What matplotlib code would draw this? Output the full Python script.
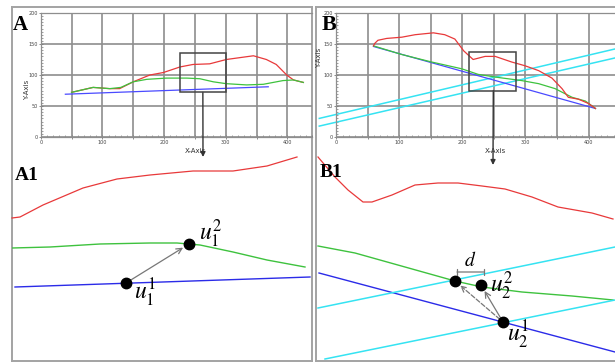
import matplotlib
matplotlib.use("Agg")
import matplotlib.pyplot as plt
from matplotlib.patches import Rectangle
from matplotlib.ticker import MultipleLocator, FuncFormatter

plt.rcParams['mathtext.fontset'] = 'stix'

# ---- panel A (overview) ----
a_red_x = [50, 85, 112, 128, 140, 150, 177, 199, 226, 247, 274, 301, 323, 345, 366, 382, 399, 410, 426]
a_red_y = [72, 80, 78, 78, 84, 89, 100, 104, 113, 117, 118, 125, 128, 131, 125, 117, 100, 92, 88]
a_green_x = [50, 85, 112, 130, 150, 172, 204, 237, 258, 280, 301, 334, 361, 393, 410, 426]
a_green_y = [72, 80, 78, 80, 89, 93, 95, 95, 94, 89, 86, 84, 85, 91, 92, 88]
a_blue_x = [40, 369]
a_blue_y = [69, 81]
a_box_x = [226, 301]
a_box_y = [72, 135]
a_arrow_x = 263

# ---- panel B (overview) ----
b_red_x = [59, 61, 66, 80, 104, 125, 154, 172, 188, 202, 217, 236, 252, 278, 299, 321, 342, 358, 368, 384, 400, 411]
b_red_y = [147, 151, 156, 159, 161, 165, 168, 165, 158, 139, 125, 130, 130, 121, 115, 107, 95, 78, 64, 61, 54, 46]
b_green_x = [59, 104, 151, 199, 225, 257, 294, 321, 347, 374, 395, 411]
b_green_y = [147, 133, 121, 110, 101, 96, 91, 86, 78, 64, 58, 46]
b_blue_x = [59, 411]
b_blue_y = [146, 46]
b_cyan1_x = [-27, 442]
b_cyan1_y = [30, 142]
b_cyan2_x = [-27, 442]
b_cyan2_y = [17.6, 127.5]
b_box_x = [211, 285]
b_box_y = [75, 137]
b_arrow_x = 249

# ---- panel A1 (zoom, schematic units) ----
a1_red_x = [0, 8, 31, 71, 105, 138, 181, 221, 255, 285]
a1_red_y = [143, 144, 156, 173, 182, 186, 190, 190, 195, 204]
a1_green_x = [0, 38, 88, 138, 165, 188, 221, 255, 293]
a1_green_y = [113, 114, 117, 118, 118, 116, 109, 101, 94]
a1_blue_x = [3, 298]
a1_blue_y = [74, 84]
a1_pts_x = [114, 177]          # u1^1, u1^2
a1_pts_y = [78, 117]
a1_tip = (191, 204)

# ---- panel B1 (zoom, schematic units) ----
b1_red_x = [2, 19, 32, 47, 56, 76, 99, 122, 142, 166, 189, 216, 242, 276, 297]
b1_red_y = [204, 184, 171, 159, 159, 166, 176, 178, 178, 175, 172, 164, 154, 148, 142]
b1_green_x = [2, 39, 89, 139, 166, 206, 256, 297]
b1_green_y = [115, 108, 94, 80, 74, 69, 65, 61]
b1_blue_x = [3, 299]
b1_blue_y = [88, 9]
b1_cyan1_x = [2, 299]
b1_cyan1_y = [53, 114]
b1_cyan2_x = [9, 299]
b1_cyan2_y = [2, 61]
b1_pts_x = [139, 165, 187]     # intersection, u2^2, u2^1
b1_pts_y = [80, 76, 39]
b1_d_x = [141, 168]
b1_d_y = 89
b1_tip = (177, 196)

RED, GREEN, BLUE, CYAN = '#e8393a', '#3ec23e', '#2b2be8', '#35e3f2'
GRID = '#8e8e8e'
FRAME = '#a3a3a3'

W, H = 615, 362


def rect(x0, y0, x1, y1):
    return [x0 / W, 1 - y1 / H, (x1 - x0) / W, (y1 - y0) / H]


fig = plt.figure(figsize=(6.15, 3.62), dpi=100)

# outer frames
frames = [fig.add_axes(rect(12, 7, 312, 361)), fig.add_axes(rect(316, 7, 622, 361))]
for fr in frames:
    fr.set_xticks([])
    fr.set_yticks([])
    for s in fr.spines.values():
        s.set_color(FRAME)
        s.set_linewidth(1.4)


def style_top(ax, xmax, lab_x, ylab_y):
    ax.set_xlim(0, xmax)
    ax.set_ylim(0, 200)
    ax.set_facecolor('none')
    ax.set_axisbelow(True)
    ax.xaxis.set_major_locator(MultipleLocator(50))
    ax.yaxis.set_major_locator(MultipleLocator(50))
    ax.xaxis.set_minor_locator(MultipleLocator(10))
    ax.yaxis.set_minor_locator(MultipleLocator(5))
    ax.xaxis.set_major_formatter(FuncFormatter(lambda v, p: f'{int(v)}' if v % 100 == 0 else ''))
    ax.grid(True, which='major', color=GRID, lw=1.2)
    ax.tick_params(which='major', length=2.5, width=0.6, color='#777777',
                   labelsize=3.5, pad=1, direction='inout', labelcolor='#444444')
    ax.tick_params(which='minor', length=1.5, width=0.5, color='#777777', direction='in')
    ax.spines['right'].set_visible(False)
    for s in ['left', 'bottom', 'top']:
        ax.spines[s].set_color(GRID)
        ax.spines[s].set_linewidth(0.9)
    ax.set_xlabel('X-Axis', fontsize=5, color='#333333')
    ax.set_ylabel('Y-Axis', fontsize=5, color='#333333')
    ax.xaxis.set_label_coords(lab_x, -0.085)
    ax.yaxis.set_label_coords(-0.04 if xmax < 441 else -0.05, ylab_y)


axA = fig.add_axes(rect(40.7, 13, 312, 137))
style_top(axA, 440, 0.572, 0.38)
axA.plot(a_blue_x, a_blue_y, color='#4a4aff', lw=0.9)
axA.plot(a_red_x, a_red_y, color=RED, lw=0.9)
axA.plot(a_green_x, a_green_y, color=GREEN, lw=0.9)
axA.add_patch(Rectangle((a_box_x[0], a_box_y[0]), a_box_x[1] - a_box_x[0], a_box_y[1] - a_box_y[0],
                        fill=False, ec='#444444', lw=1.1, zorder=4))

axB = fig.add_axes(rect(336.3, 13, 615, 137))
style_top(axB, 442, 0.57, 0.64)
axB.plot(b_cyan1_x, b_cyan1_y, color=CYAN, lw=1.1, clip_on=False)
axB.plot(b_cyan2_x, b_cyan2_y, color=CYAN, lw=1.1, clip_on=False)
axB.plot(b_blue_x, b_blue_y, color='#4a4aff', lw=0.9)
axB.plot(b_green_x, b_green_y, color=GREEN, lw=0.9)
axB.plot(b_red_x, b_red_y, color=RED, lw=0.9)
axB.add_patch(Rectangle((b_box_x[0], b_box_y[0]), b_box_x[1] - b_box_x[0], b_box_y[1] - b_box_y[0],
                        fill=False, ec='#444444', lw=1.1, zorder=4))

# zoom panels
axA1 = fig.add_axes(rect(12, 155, 312, 361))
axA1.set_xlim(0, 300)
axA1.set_ylim(0, 206)
axA1.axis('off')
axB1 = fig.add_axes(rect(316, 155, 615, 361))
axB1.set_xlim(0, 299)
axB1.set_ylim(0, 206)
axB1.axis('off')

axA1.plot(a1_red_x, a1_red_y, color=RED, lw=0.9, clip_on=False)
axA1.plot(a1_green_x, a1_green_y, color=GREEN, lw=1.0)
axA1.plot(a1_blue_x, a1_blue_y, color=BLUE, lw=1.0)
axA1.annotate('', xy=(a1_pts_x[1], a1_pts_y[1]), xytext=(a1_pts_x[0], a1_pts_y[0]),
              arrowprops=dict(arrowstyle='->', color='#777777', lw=0.9, shrinkA=3, shrinkB=5))
axA1.plot(a1_pts_x, a1_pts_y, 'o', color='black', ms=7.5, zorder=5)
axA1.text(a1_pts_x[1] + 10, a1_pts_y[1] + 10, r'$u_1^2$', fontsize=17, ha='left', va='center')
axA1.text(a1_pts_x[0] + 8, a1_pts_y[0] - 10, r'$u_1^1$', fontsize=17, ha='left', va='center')

axB1.plot(b1_red_x, b1_red_y, color=RED, lw=0.9, clip_on=False)
axB1.plot(b1_green_x, b1_green_y, color=GREEN, lw=1.0)
axB1.plot(b1_blue_x, b1_blue_y, color=BLUE, lw=1.0)
axB1.plot(b1_cyan1_x, b1_cyan1_y, color=CYAN, lw=1.1)
axB1.plot(b1_cyan2_x, b1_cyan2_y, color=CYAN, lw=1.1)
axB1.annotate('', xy=(b1_pts_x[1], b1_pts_y[1]), xytext=(b1_pts_x[2], b1_pts_y[2]),
              arrowprops=dict(arrowstyle='->', color='#777777', lw=0.9, shrinkA=3, shrinkB=5))
axB1.annotate('', xy=(b1_pts_x[0], b1_pts_y[0]), xytext=(b1_pts_x[2], b1_pts_y[2]),
              arrowprops=dict(arrowstyle='->', color='#777777', lw=0.9, ls='--', shrinkA=3, shrinkB=5))
axB1.annotate('', xy=(b1_d_x[1], b1_d_y), xytext=(b1_d_x[0], b1_d_y),
              arrowprops=dict(arrowstyle='|-|, widthA=0.25, widthB=0.25', color='#777777', lw=0.9,
                              shrinkA=0, shrinkB=0))
axB1.text(sum(b1_d_x) / 2, b1_d_y + 2, r'$d$', fontsize=14, ha='center', va='bottom')
axB1.plot(b1_pts_x, b1_pts_y, 'o', color='black', ms=7.5, zorder=5)
axB1.text(b1_pts_x[1] + 9, b1_pts_y[1] - 1, r'$u_2^2$', fontsize=17, ha='left', va='center')
axB1.text(b1_pts_x[2] + 4, b1_pts_y[2] - 13, r'$u_2^1$', fontsize=17, ha='left', va='center')

# arrows from boxes down to the zoom panels
axA.annotate('', xy=a1_tip, xycoords=axA1.transData, xytext=(a_arrow_x, a_box_y[0]),
             textcoords='data', annotation_clip=False,
             arrowprops=dict(arrowstyle='-|>', color='#333333', lw=1.0, mutation_scale=7,
                             shrinkA=0, shrinkB=0))
axB.annotate('', xy=b1_tip, xycoords=axB1.transData, xytext=(b_arrow_x, b_box_y[0]),
             textcoords='data', annotation_clip=False,
             arrowprops=dict(arrowstyle='-|>', color='#333333', lw=1.0, mutation_scale=7,
                             shrinkA=0, shrinkB=0))

# panel letters
serif = 'Liberation Serif'
frames[0].text(0.003, 0.978, 'A', transform=frames[0].transAxes, fontsize=15,
               fontweight='bold', family=serif, va='top', ha='left')
frames[1].text(0.02, 0.978, 'B', transform=frames[1].transAxes, fontsize=16,
               fontweight='bold', family=serif, va='top', ha='left')
axA1.text(0.01, 0.94, 'A1', transform=axA1.transAxes, fontsize=14,
          fontweight='bold', family=serif, va='top', ha='left')
axB1.text(0.013, 0.955, 'B1', transform=axB1.transAxes, fontsize=14,
          fontweight='bold', family=serif, va='top', ha='left')

fig.savefig('out.png', dpi=100)
